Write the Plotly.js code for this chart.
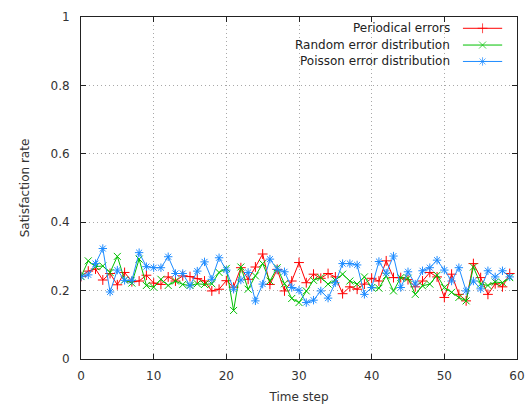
<!DOCTYPE html>
<html>
<head>
<meta charset="utf-8">
<script src="https://cdn.plot.ly/plotly-3.0.1.min.js"></script>
<style>html,body{margin:0;padding:0;background:#fff;}#chart{width:527px;height:408px;}</style>
</head>
<body>
<div id="chart"></div>
<script>
const timeSteps = Array.from({length: 60}, (_, i) => i);

const periodical = [0.241,0.257,0.263,0.231,0.250,0.217,0.253,0.226,0.228,0.245,
  0.222,0.218,0.240,0.228,0.243,0.241,0.235,0.228,0.199,0.204,
  0.229,0.210,0.267,0.233,0.269,0.307,0.218,0.262,0.199,0.228,
  0.282,0.223,0.248,0.236,0.250,0.240,0.191,0.211,0.204,0.219,
  0.236,0.228,0.287,0.238,0.238,0.232,0.211,0.228,0.253,0.240,
  0.180,0.248,0.189,0.170,0.279,0.238,0.189,0.220,0.211,0.250];

const randomDist = [0.241,0.287,0.270,0.272,0.253,0.300,0.231,0.222,0.292,0.215,
  0.210,0.233,0.215,0.228,0.218,0.215,0.220,0.218,0.220,0.253,
  0.265,0.142,0.269,0.204,0.243,0.279,0.228,0.267,0.220,0.177,
  0.165,0.199,0.230,0.238,0.219,0.230,0.248,0.228,0.219,0.240,
  0.209,0.207,0.243,0.199,0.238,0.236,0.189,0.214,0.219,0.245,
  0.209,0.195,0.180,0.170,0.269,0.219,0.215,0.225,0.223,0.238];

const poissonDist = [0.241,0.246,0.279,0.323,0.196,0.260,0.230,0.230,0.311,0.270,
  0.267,0.267,0.299,0.250,0.250,0.214,0.257,0.284,0.233,0.296,
  0.260,0.204,0.231,0.253,0.170,0.219,0.292,0.262,0.255,0.209,
  0.201,0.165,0.172,0.199,0.178,0.223,0.279,0.279,0.275,0.189,
  0.209,0.285,0.251,0.301,0.209,0.255,0.219,0.258,0.267,0.289,
  0.260,0.228,0.267,0.199,0.228,0.205,0.258,0.240,0.258,0.240];

const seriesNames = ["Periodical errors", "Random error distribution", "Poisson error distribution"];
const xTicks = [0, 10, 20, 30, 40, 50, 60];
const yTicks = [0, 0.2, 0.4, 0.6, 0.8, 1];
const yTickLabels = ["0", "0.2", "0.4", "0.6", "0.8", "1"];

const colors = ["#ff0000", "#00c000", "#1e8cff"];
const symbols = ["cross-thin-open", "x-thin-open", "asterisk-open"];
const values = [periodical, randomDist, poissonDist];

const traces = values.map((v, i) => ({
  x: timeSteps, y: v, name: seriesNames[i], type: "scatter", mode: "lines+markers",
  showlegend: false,
  line: {color: colors[i], width: 1},
  marker: {symbol: symbols[i], size: 7, color: colors[i], line: {color: colors[i], width: 1}}
}));

// gnuplot-style key: right-aligned text followed by a line sample with its marker
const keyRowsY = [0.967, 0.918, 0.870];
const keyTextX = 0.850, keyLineX0 = 0.876, keyLineX1 = 0.966;
const annotations = [];
values.forEach((v, i) => {
  traces.push({
    x: [keyLineX0, (keyLineX0 + keyLineX1) / 2, keyLineX1], y: [keyRowsY[i], keyRowsY[i], keyRowsY[i]],
    xaxis: "x2", yaxis: "y2", type: "scatter", mode: "lines+markers", showlegend: false, hoverinfo: "skip",
    line: {color: colors[i], width: 1},
    marker: {symbol: symbols[i], size: [0, 7, 0], color: colors[i], line: {color: colors[i], width: 1}}
  });
  annotations.push({
    xref: "paper", yref: "paper", x: keyTextX, y: keyRowsY[i], xanchor: "right", yanchor: "middle",
    text: seriesNames[i], showarrow: false,
    font: {family: "DejaVu Sans, sans-serif", size: 12, color: "#222"}
  });
});

const font = {family: "DejaVu Sans, sans-serif", size: 12, color: "#333"};
const axisCommon = {
  showline: true, linecolor: "#222", linewidth: 1, mirror: "ticks",
  ticks: "inside", ticklen: 5, tickcolor: "#222",
  showgrid: true, gridcolor: "#a8a8a8", griddash: "1px,3px", gridwidth: 1,
  zeroline: false, fixedrange: true, tickfont: font
};

const layout = {
  width: 527, height: 408,
  margin: {l: 81, r: 10, t: 17, b: 49},
  paper_bgcolor: "#fff", plot_bgcolor: "#fff",
  font: font,
  showlegend: false,
  annotations: annotations,
  xaxis: Object.assign({}, axisCommon, {range: [0, 60], tickvals: xTicks, ticklabelstandoff: 6,
    title: {text: "Time step", font: font, standoff: 10}}),
  yaxis: Object.assign({}, axisCommon, {range: [0, 1], tickvals: yTicks, ticktext: yTickLabels, ticklabelstandoff: 8,
    title: {text: "Satisfaction rate", font: font, standoff: 18}}),
  xaxis2: {overlaying: "x", anchor: "y2", range: [0, 1], visible: false, fixedrange: true},
  yaxis2: {overlaying: "y", anchor: "x2", range: [0, 1], visible: false, fixedrange: true}
};

Plotly.newPlot("chart", traces, layout, {displayModeBar: false, staticPlot: true});
</script>
</body>
</html>
